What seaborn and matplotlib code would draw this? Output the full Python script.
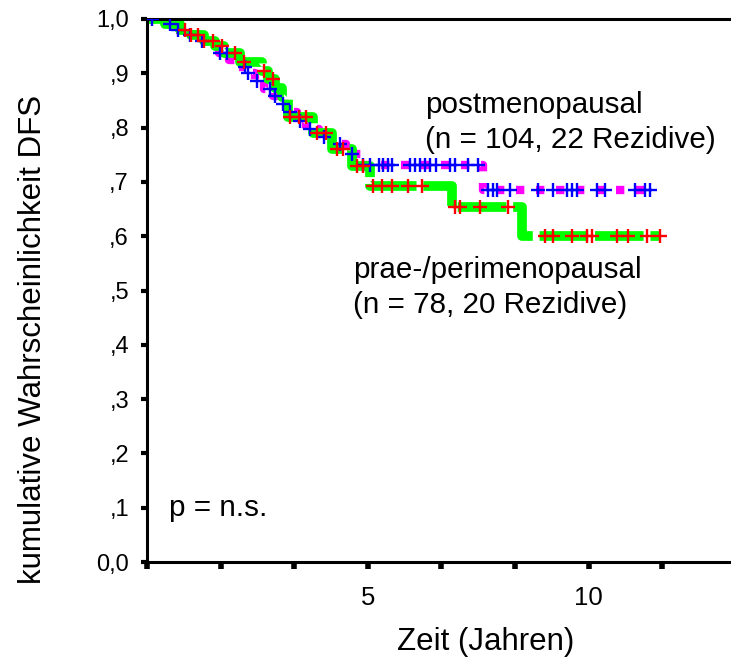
import numpy as np
import pandas as pd
import matplotlib
matplotlib.use("Agg")
import matplotlib.pyplot as plt
import seaborn as sns

# Kaplan-Meier estimates: step start times (years) and cumulative DFS probability
post_times = [0.0, 0.30, 0.62, 0.95, 1.15, 1.40, 1.62, 1.85, 2.05, 2.25, 2.45,
              2.65, 2.85, 3.00, 3.20, 3.40, 3.60, 3.90, 4.20, 4.50, 4.85, 7.60]
post_surv = [1.000, 0.990, 0.980, 0.970, 0.960, 0.948, 0.937, 0.925, 0.912, 0.900, 0.886,
             0.872, 0.858, 0.843, 0.828, 0.813, 0.798, 0.783, 0.769, 0.752, 0.731, 0.685]
post_end = 11.39
post_censor = [0.11, 0.52, 0.70, 0.97, 1.25, 1.65, 1.81, 2.22, 2.29, 2.50, 2.79,
               2.90, 3.08, 3.24, 3.47, 3.70, 4.00, 4.37,
               4.65, 4.90, 5.05, 5.25, 5.35, 5.46, 5.55, 5.96, 6.07, 6.18, 6.30,
               6.41, 6.54, 6.86, 6.98, 7.27, 7.50,
               7.72, 7.83, 7.92, 8.22, 8.86, 9.20, 9.51, 9.62, 9.74, 10.19,
               10.37, 11.05, 11.28, 11.39]

prae_times = [0.0, 0.40, 0.75, 1.00, 1.30, 1.55, 1.75, 2.10, 2.60, 2.75, 2.90,
              3.05, 3.20, 3.75, 4.20, 4.65, 5.05, 6.90, 8.50]
prae_surv = [1.000, 0.990, 0.980, 0.970, 0.960, 0.950, 0.937, 0.920, 0.905, 0.890, 0.873,
             0.856, 0.820, 0.790, 0.760, 0.730, 0.692, 0.654, 0.600]
prae_end = 11.62
prae_censor = [0.85, 1.00, 1.15, 1.30, 1.50, 1.70, 2.00, 2.20, 2.65, 2.85,
               3.25, 3.45, 3.60, 3.85, 4.05, 4.30, 4.45, 4.75, 4.90,
               5.12, 5.32, 5.55, 5.91, 6.23,
               6.98, 7.09, 7.54, 8.18,
               9.01, 9.20, 9.63, 9.97, 10.08, 10.65, 10.89, 11.33, 11.62]

x_ticks = [0, 5 / 3, 10 / 3, 5, 20 / 3, 25 / 3, 10, 35 / 3]
x_tick_labels = ["", "", "", "5", "", "", "10", ""]
y_ticks = [0.0, 0.1, 0.2, 0.3, 0.4, 0.5, 0.6, 0.7, 0.8, 0.9, 1.0]
y_tick_labels = ["0,0", ",1", ",2", ",3", ",4", ",5", ",6", ",7", ",8", ",9", "1,0"]

sns.set_style("white")
plt.rcParams["font.family"] = ["Liberation Sans", "DejaVu Sans"]


def step_frame(times, surv, end):
    return pd.DataFrame({"t": list(times) + [end], "s": list(surv) + [surv[-1]]})


def censor_frame(times, surv, censor):
    idx = np.searchsorted(np.asarray(times), np.asarray(censor), side="right") - 1
    return pd.DataFrame({"t": censor, "s": np.asarray(surv)[idx]})


fig = plt.figure(figsize=(7.31, 6.59), dpi=100)
ax = fig.add_axes([147 / 731, 97 / 659, 584 / 731, 543 / 659])

post_df = step_frame(post_times, post_surv, post_end)
prae_df = step_frame(prae_times, prae_surv, prae_end)

sns.lineplot(data=post_df, x="t", y="s", ax=ax, estimator=None, sort=False,
             drawstyle="steps-post", color="#ff00ff", linewidth=6.0,
             linestyle=(0, (1.0, 1.4)))
sns.lineplot(data=prae_df, x="t", y="s", ax=ax, estimator=None, sort=False,
             drawstyle="steps-post", color="#00ff00", linewidth=7.0,
             linestyle=(0, (5.0, 0.7)))

sns.scatterplot(data=censor_frame(post_times, post_surv, post_censor), x="t", y="s",
                ax=ax, marker="+", s=100, color="#0000ff", linewidth=1.7, zorder=4)
sns.scatterplot(data=censor_frame(prae_times, prae_surv, prae_censor), x="t", y="s",
                ax=ax, marker="+", s=100, color="#ff0000", linewidth=1.7, zorder=5)

ax.set_xlim(0, 584 / 44.15)
ax.set_ylim(0, 1.0)
ax.set_xticks(x_ticks)
ax.set_xticklabels(x_tick_labels)
ax.set_yticks(y_ticks)
ax.set_yticklabels(y_tick_labels)

for side in ["left", "bottom", "top"]:
    ax.spines[side].set_visible(True)
    ax.spines[side].set_color("black")
    ax.spines[side].set_linewidth(2.2)
ax.spines["right"].set_visible(False)

ax.tick_params(axis="y", direction="out", length=4, width=3, color="black",
               labelsize=17, labelcolor="black", pad=9, left=True)
ax.tick_params(axis="x", direction="out", length=5, width=4, color="black",
               labelsize=18.5, labelcolor="black", pad=12, bottom=True)

ax.set_xlabel("Zeit (Jahren)", fontsize=22.5, color="black")
ax.set_ylabel("kumulative Wahrscheinlichkeit DFS", fontsize=22.5, color="black")
ax.xaxis.set_label_coords((486 - 147) / 584, (562 - 627) / 543)
ax.yaxis.set_label_coords((48 - 147) / 584, (562 - 340) / 543)

ann = dict(fontsize=21.3, color="black", va="center", ha="left")
ax.text(6.30, 0.842, "postmenopausal", **ann)
ax.text(6.30, 0.777, "(n = 104, 22 Rezidive)", **ann)
ax.text(4.67, 0.538, "prae-/perimenopausal", **ann)
ax.text(4.67, 0.473, "(n = 78, 20 Rezidive)", **ann)
ax.text(0.50, 0.099, "p = n.s.", **ann)

fig.savefig("out.png", dpi=100)
